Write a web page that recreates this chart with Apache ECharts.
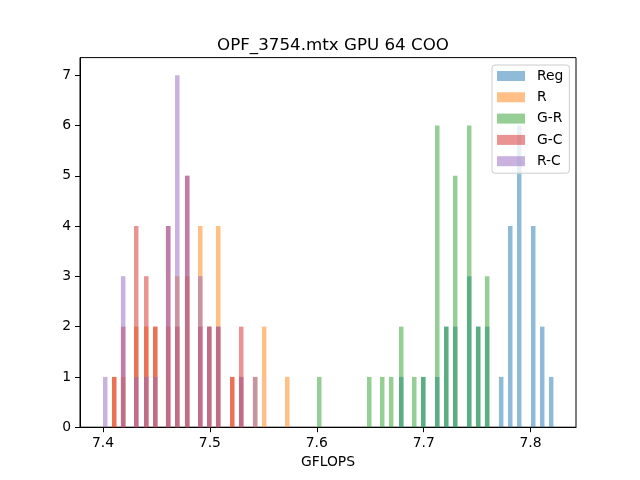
<!DOCTYPE html>
<html>
<head>
<meta charset="utf-8">
<script src="https://cdn.jsdelivr.net/npm/echarts@6/dist/echarts.min.js"></script>
<style>
html,body{margin:0;padding:0;background:#fff;}
#chart{width:640px;height:480px;}
</style>
</head>
<body>
<div id="chart"></div>
<script>
// Histogram bin centres (GFLOPS) that hold at least one value
var binCenters = [
  7.4021, 7.4105, 7.4189, 7.4311, 7.4405, 7.4489, 7.4610, 7.4695, 7.4788, 7.4910,
  7.4994, 7.5078, 7.5209, 7.5293, 7.5424, 7.5508, 7.5724,
  7.6023, 7.6491, 7.6612, 7.6696, 7.6790, 7.6912, 7.6996, 7.7127, 7.7211,
  7.7295, 7.7426, 7.7510, 7.7594, 7.7725, 7.7810, 7.7894, 7.8025, 7.8109, 7.8193
];
var seriesNames = ['Reg', 'R', 'G-R', 'G-C', 'R-C'];
var countsReg = [0,0,0,0,0,0,0,0,0,0,0,0,0,0,0,0,0, 0,0,0,0,1,0,1,1,2,2,3,2,2,1,4,6,4,2,1];
var countsR   = [0,1,1,2,2,2,2,3,3,4,2,4,1,1,1,2,1, 0,0,0,0,0,0,0,0,0,0,0,0,0,0,0,0,0,0,0];
var countsGR  = [0,0,0,0,0,0,0,0,0,0,0,0,0,0,0,0,0, 1,1,1,1,2,1,1,6,2,5,6,2,3,0,0,0,0,0,0];
var countsGC  = [0,1,2,4,3,2,4,2,5,2,2,2,1,2,0,0,0, 0,0,0,0,0,0,0,0,0,0,0,0,0,0,0,0,0,0,0];
var countsRC  = [1,0,3,1,1,1,4,7,5,3,2,2,0,1,1,0,0, 0,0,0,0,0,0,0,0,0,0,0,0,0,0,0,0,0,0,0];
var xTicks = [7.4, 7.5, 7.6, 7.7, 7.8];
var yTicks = [0, 1, 2, 3, 4, 5, 6, 7];
var colors = ['rgba(31,119,180,0.5)','rgba(255,127,14,0.5)','rgba(44,160,44,0.5)','rgba(214,39,40,0.5)','rgba(148,103,189,0.5)'];

var allCounts = [countsReg, countsR, countsGR, countsGC, countsRC];
function toData(counts){
  var out = [];
  for (var i = 0; i < binCenters.length; i++) {
    if (counts[i] > 0) out.push([binCenters[i], counts[i]]);
  }
  return out;
}
var series = seriesNames.map(function(n, k){
  return {
    name: n, type: 'bar', data: toData(allCounts[k]),
    barWidth: 4.5, barGap: '-100%',
    itemStyle: {color: colors[k]},
    emphasis: {disabled: true}
  };
});

var font = 'DejaVu Sans';
var chart = echarts.init(document.getElementById('chart'));
chart.setOption({
  animation: false,
  backgroundColor: '#fff',
  title: {
    text: 'OPF_3754.mtx GPU 64 COO',
    left: 328, top: 32, textAlign: 'center',
    textStyle: {fontFamily: font, fontSize: 16.7, fontWeight: 'normal', color: '#000'}
  },
  legend: {
    orient: 'vertical', left: 492, top: 65,
    data: seriesNames,
    itemWidth: 28, itemHeight: 10, itemGap: 7.3,
    padding: [4, 6, 5, 5],
    backgroundColor: 'rgba(255,255,255,0.8)',
    borderColor: '#cccccc', borderWidth: 1, borderRadius: 3,
    icon: 'rect',
    textStyle: {fontFamily: font, fontSize: 13.9, color: '#000', padding: [0,0,0,7]}
  },
  grid: {
    left: 80, right: 64, top: 57.6, bottom: 52.8,
    show: true, borderColor: '#000', borderWidth: 1, backgroundColor: 'transparent'
  },
  xAxis: {
    type: 'value', min: 7.3785, max: 7.8425,
    name: 'GFLOPS', nameLocation: 'middle', nameGap: 28,
    nameTextStyle: {fontFamily: font, fontSize: 13.9, color: '#000'},
    axisLine: {show: true, lineStyle: {color: '#000', width: 1}},
    axisTick: {show: true, length: 5, lineStyle: {color: '#000'}, customValues: xTicks},
    axisLabel: {fontFamily: font, fontSize: 13.9, color: '#000', margin: 9, customValues: xTicks,
      formatter: function(v){ return v.toFixed(1); }},
    splitLine: {show: false}
  },
  yAxis: {
    type: 'value', min: 0, max: 7.35,
    axisLine: {show: true, lineStyle: {color: '#000', width: 1}},
    axisTick: {show: true, length: 5, lineStyle: {color: '#000'}, customValues: yTicks},
    axisLabel: {fontFamily: font, fontSize: 13.9, color: '#000', margin: 9, customValues: yTicks},
    splitLine: {show: false}
  },
  series: series
});
</script>
</body>
</html>
